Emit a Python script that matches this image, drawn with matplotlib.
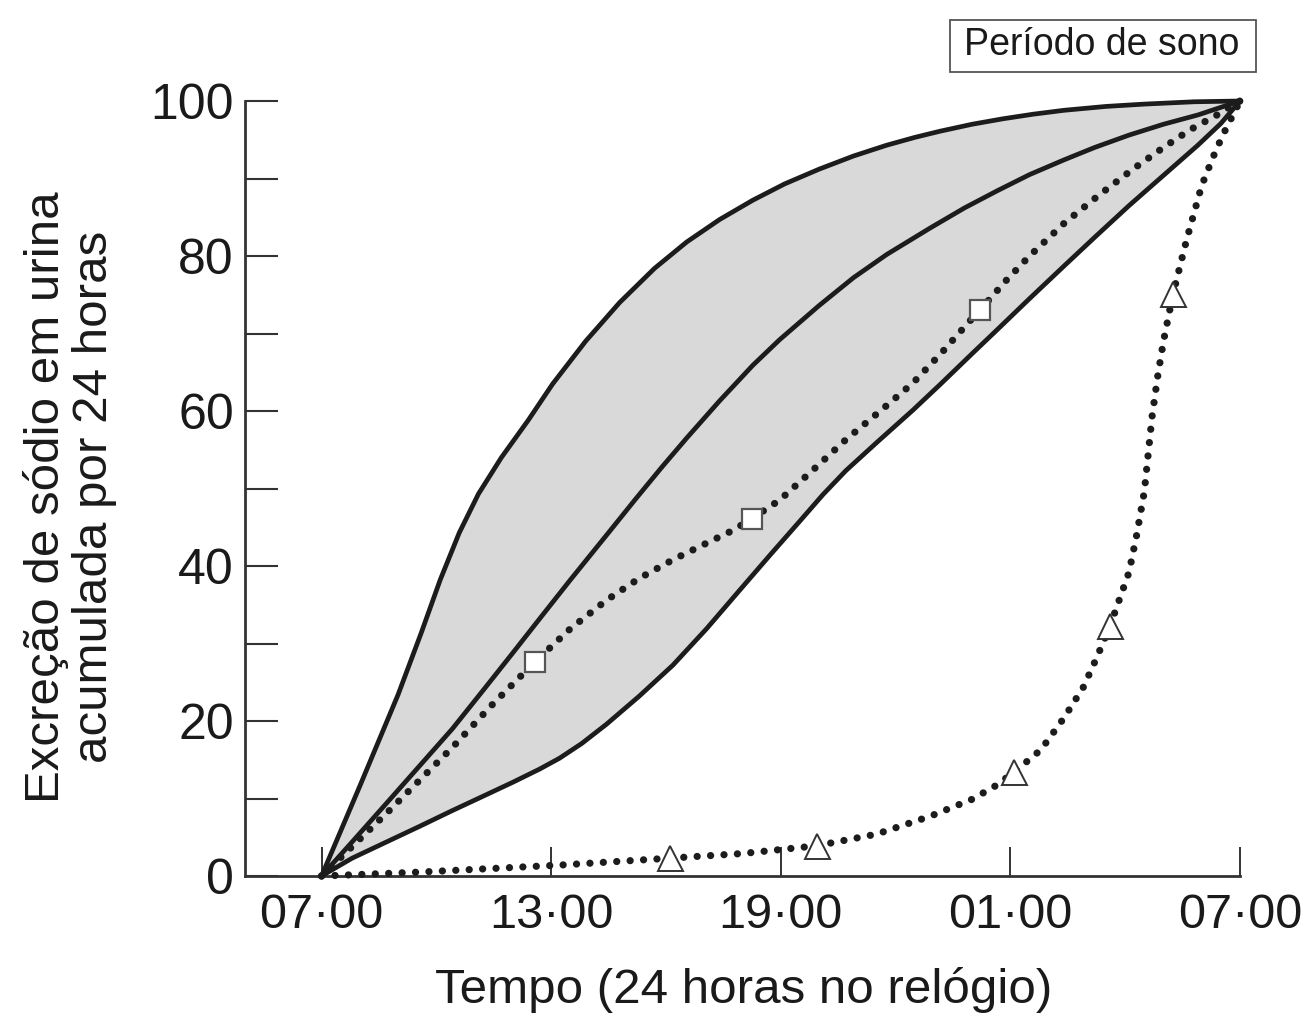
import matplotlib
matplotlib.use("Agg")
import matplotlib.pyplot as plt
from matplotlib.patches import Rectangle

plt.rcParams['font.family'] = ['Liberation Sans', 'DejaVu Sans']

# hours after 07:00
upper_h = [0, 1.0, 2.0, 2.6, 3.1, 3.6, 4.1, 4.7, 5.4, 6.04, 6.9, 7.79, 8.7, 9.54, 10.4, 11.27, 12.1, 13.0,
           13.9, 14.77, 15.5, 16.16, 17.0, 17.8, 18.6, 19.4, 20.5, 21.5, 22.8, 24]
upper_v = [0, 11.6, 23.4, 31.3, 38.2, 44.3, 49.3, 54.0, 58.8, 63.5, 69.0, 74.0, 78.4, 81.8, 84.7, 87.2, 89.3, 91.2,
           92.9, 94.3, 95.3, 96.1, 97.0, 97.7, 98.3, 98.8, 99.3, 99.6, 99.9, 100]

middle_h = [0, 0.8, 1.7, 2.56, 3.42, 4.31, 5.0, 5.7, 6.5, 7.45, 8.2, 8.9, 9.54, 10.4, 11.27, 11.97, 13.0, 13.9,
            14.77, 15.9, 16.8, 17.65, 18.5, 19.4, 20.2, 21.1, 22.0, 22.9, 24]
middle_v = [0, 4.4, 9.4, 14.2, 19.0, 24.5, 28.8, 33.2, 38.2, 44.0, 48.6, 52.8, 56.5, 61.3, 65.9, 69.2, 73.6, 77.2,
            80.2, 83.6, 86.2, 88.4, 90.5, 92.4, 94.0, 95.6, 97.0, 98.2, 100]

lower_h = [0, 0.8, 1.7, 2.56, 3.4, 4.31, 5.0, 5.7, 6.22, 6.8, 7.45, 8.3, 9.18, 10.06, 10.93, 11.7, 12.5, 13.1,
           13.7, 14.5, 15.45, 16.16, 17.0, 17.7, 18.5, 19.4, 20.2, 21.1, 22.0, 22.9, 23.5, 24]
lower_v = [0, 2.3, 4.4, 6.4, 8.4, 10.5, 12.1, 13.8, 15.2, 17.1, 19.6, 23.2, 27.2, 31.9, 36.9, 41.3, 45.8, 49.2,
           52.3, 55.9, 60.1, 63.4, 67.4, 70.7, 74.5, 78.7, 82.4, 86.5, 90.4, 94.3, 97.1, 100]

square_line_h = [0, 1.7, 3.42, 4.44, 5.57, 6.5, 7.45, 8.3, 9.18, 10.0, 10.75, 11.24, 11.97, 12.8, 13.7, 14.6,
                 15.45, 16.2, 16.9, 17.2, 17.9, 18.5, 19.4, 20.3, 21.2, 22.0, 22.7, 23.4, 24]
square_line_v = [0, 8.1, 16.6, 22.0, 27.6, 31.9, 35.6, 38.4, 40.8, 42.8, 44.6, 46.1, 48.5, 52.2, 56.3, 60.0,
                 63.6, 67.5, 71.4, 73.0, 76.9, 80.0, 84.2, 87.8, 91.2, 94.0, 96.3, 98.2, 100]
square_h = [5.57, 11.24, 17.2]
square_v = [27.6, 46.1, 73.0]

tri_line_h = [0, 2.56, 6.2, 9.1, 11.0, 12.94, 14.5, 15.9, 17.0, 17.6, 18.1, 18.8, 19.4, 19.9, 20.25, 20.6, 21.1,
              21.3, 21.5, 21.7, 21.85, 22.0, 22.25, 22.6, 23.0, 23.3, 23.55, 24]
tri_line_v = [0, 0.5, 1.4, 2.3, 2.9, 3.9, 5.4, 7.7, 9.9, 11.6, 13.4, 16.3, 20.4, 24.3, 28.1, 32.2, 39.2,
              44.0, 49.6, 59.2, 64.5, 69.0, 75.1, 82.0, 89.1, 92.8, 95.6, 100]
tri_h = [9.1, 12.94, 18.1, 20.6, 22.25]
tri_v = [2.3, 3.9, 13.4, 32.2, 75.1]

xtick_pos = [0, 6, 12, 18, 24]
xtick_labels = ['07·00', '13·00', '19·00', '01·00', '07·00']
ytick_pos = [0, 20, 40, 60, 80, 100]

fig = plt.figure(figsize=(13.08, 10.19), dpi=100)
ax = fig.add_axes([245/1308, 1 - 876/1019, 995/1308, 775/1019])

ink = '#1c1c1c'

# shaded band between upper and lower curves
ax.fill(upper_h + lower_h[::-1], upper_v + lower_v[::-1], color='#d9d9d9', lw=0, zorder=1)

for hh, vv in [(upper_h, upper_v), (middle_h, middle_v), (lower_h, lower_v)]:
    ax.plot(hh, vv, color=ink, lw=3.4, solid_joinstyle='round', solid_capstyle='round', zorder=3, clip_on=False)

dot_style = dict(color=ink, lw=5.2, linestyle=(0, (0.01, 1.85)), dash_capstyle='round', zorder=4, clip_on=False)
ax.plot(square_line_h, square_line_v, **dot_style)
ax.plot(tri_line_h, tri_line_v, **dot_style)

ax.plot(square_h, square_v, 's', ms=15, mfc='white', mec='#555555', mew=1.6, zorder=5, clip_on=False)
ax.plot(tri_h, tri_v, '^', ms=18, mfc='white', mec='#333333', mew=1.4, zorder=5, clip_on=False)

ax.set_xlim(-2, 24)
ax.set_ylim(0, 100)
ax.spines['top'].set_visible(False)
ax.spines['right'].set_visible(False)
for s in ['left', 'bottom']:
    ax.spines[s].set_linewidth(2.0)
    ax.spines[s].set_color('#333333')

ax.set_xticks(xtick_pos)
ax.set_xticklabels(xtick_labels, fontsize=35)
ax.set_yticks(ytick_pos)
ax.set_yticklabels([str(v) for v in ytick_pos], fontsize=36)
ax.set_yticks([10, 30, 50, 70, 90], minor=True)
ax.tick_params(axis='y', which='both', direction='in', length=24, width=1.5, color='#333333', pad=8)
ax.tick_params(axis='x', direction='in', length=21, width=1.4, color='#333333', pad=12)
for t in ax.get_xticklabels() + ax.get_yticklabels():
    t.set_color('#1a1a1a')

fig.text(70/1308, 1 - 497/1019, 'Excreção de sódio em urina\nacumulada por 24 horas',
         rotation=90, ha='center', va='center', multialignment='center',
         fontsize=35.5, linespacing=1.1, color='#1a1a1a')
fig.text(744/1308, 1 - 990/1019, 'Tempo (24 horas no relógio)',
         ha='center', va='center', fontsize=35.5, color='#1a1a1a')

# "Período de sono" box
fig.patches.append(Rectangle((950/1308, 1 - 72/1019), 306/1308, 52/1019, transform=fig.transFigure,
                             fc='white', ec='#555555', lw=1.3))
fig.text(1102/1308, 1 - 45/1019, 'Período de sono', ha='center', va='center',
         fontsize=27, color='#1a1a1a')

fig.savefig('out.png', dpi=100)
